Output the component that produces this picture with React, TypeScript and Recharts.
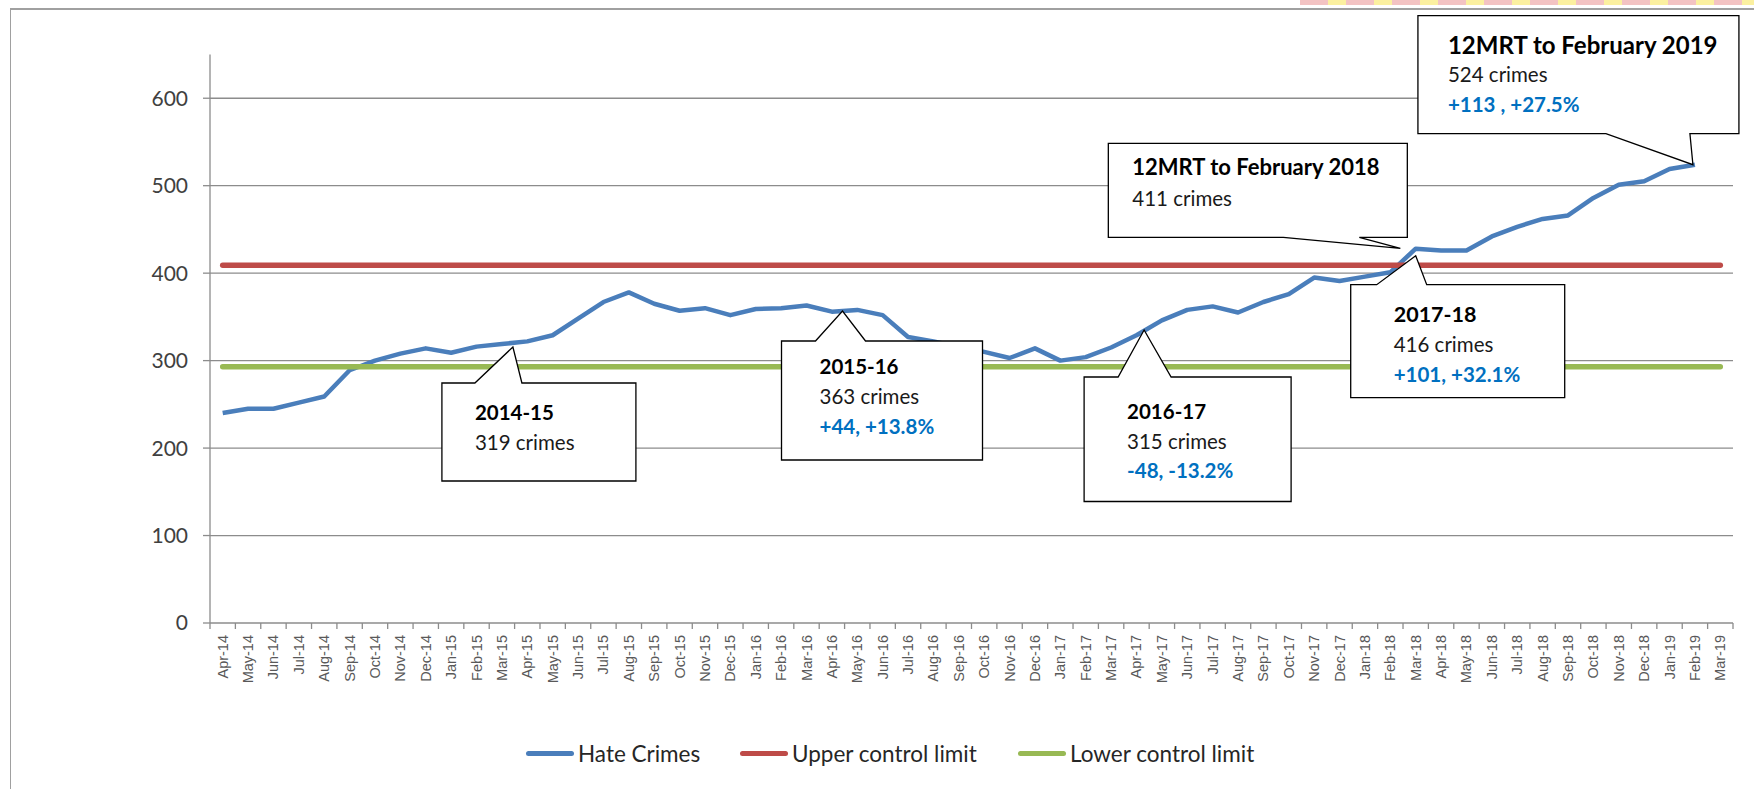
import React from 'react';
import { LineChart, Line, XAxis, YAxis, ReferenceLine, ReferenceDot } from 'recharts';

const months = [
  'Apr-14', 'May-14', 'Jun-14', 'Jul-14', 'Aug-14', 'Sep-14', 'Oct-14', 'Nov-14', 'Dec-14', 'Jan-15', 'Feb-15', 'Mar-15',
  'Apr-15', 'May-15', 'Jun-15', 'Jul-15', 'Aug-15', 'Sep-15', 'Oct-15', 'Nov-15', 'Dec-15', 'Jan-16', 'Feb-16', 'Mar-16',
  'Apr-16', 'May-16', 'Jun-16', 'Jul-16', 'Aug-16', 'Sep-16', 'Oct-16', 'Nov-16', 'Dec-16', 'Jan-17', 'Feb-17', 'Mar-17',
  'Apr-17', 'May-17', 'Jun-17', 'Jul-17', 'Aug-17', 'Sep-17', 'Oct-17', 'Nov-17', 'Dec-17', 'Jan-18', 'Feb-18', 'Mar-18',
  'Apr-18', 'May-18', 'Jun-18', 'Jul-18', 'Aug-18', 'Sep-18', 'Oct-18', 'Nov-18', 'Dec-18', 'Jan-19', 'Feb-19', 'Mar-19',
];

// 12 month rolling total of hate crimes (no value yet for Mar-19)
const hateCrimes = [
  240, 245, 245, 252, 259, 289, 300, 308, 314, 309, 316, 319,
  322, 329, 348, 367, 378, 365, 357, 360, 352, 359, 360, 363,
  356, 358, 352, 327, 322, 316, 310, 303, 314, 300, 304, 315,
  329, 346, 358, 362, 355, 367, 376, 395, 391, 396, 401, 428,
  426, 426, 442, 453, 462, 466, 486, 501, 505, 519, 524, null,
];

const upperControlLimit = 409;
const lowerControlLimit = 293;

const yTicks = [0, 100, 200, 300, 400, 500, 600];

const seriesNames = ['Hate Crimes', 'Upper control limit', 'Lower control limit'];
const seriesColors = ['#4A7EBB', '#BE4B48', '#98B954'];

const callouts = [
  { month: 'Mar-15', title: '2014-15', crimes: '319 crimes', change: '' },
  { month: 'Mar-16', title: '2015-16', crimes: '363 crimes', change: '+44, +13.8%' },
  { month: 'Mar-17', title: '2016-17', crimes: '315 crimes', change: '-48, -13.2%' },
  { month: 'Mar-18', title: '2017-18', crimes: '416 crimes', change: '+101, +32.1%' },
  { month: 'Feb-18', title: '12MRT to February 2018', crimes: '411 crimes', change: '' },
  { month: 'Feb-19', title: '12MRT to February 2019', crimes: '524 crimes', change: '+113 , +27.5%' },
];

// box geometry relative to the data point the callout points at
const calloutLayout = [
  { tip: [11, 3], box: [-60, 134, 39, 137], base: [-27, 20], edge: 'top', textX: -27, lines: [76, 106], titleSize: 20.5 },
  { tip: [36, 5.5], box: [-25, 176, 35.5, 154.5], base: [9, 59], edge: 'top', textX: 13, lines: [68.5, 98.5, 128.5], titleSize: 20.5 },
  { tip: [33, -17.5], box: [-27, 180, 29.5, 154], base: [7, 60], edge: 'top', textX: 16, lines: [71.5, 101.5, 130.5], titleSize: 20.5 },
  { tip: [0, 7], box: [-65, 149, 36, 149], base: [-39, 11], edge: 'top', textX: -22, lines: [73, 103, 133], titleSize: 21.5 },
  { tip: [10, -24], box: [-282, 17, -129, -35], base: [-107, -31], edge: 'bottom', textX: -258, lines: [-97, -66], titleSize: 22 },
  { tip: [-2, 0], box: [-277, 44, -149, -31], base: [-89, -5], edge: 'bottom', textX: -247, lines: [-111, -83, -53], titleSize: 24 },
];

const data = months.map((m, i) => ({
  month: m,
  hate: hateCrimes[i],
  upper: upperControlLimit,
  lower: lowerControlLimit,
}));

const FONT = 'Lato, "Open Sans", sans-serif';
const BAND = 1523 / 60;
const GRID = '#8c8c8c';

const MonthTick = (props: any) => {
  const { x, y, payload, index } = props;
  const axisY = y - 12;
  return (
    <g>
      <line x1={x - BAND / 2} x2={x - BAND / 2} y1={axisY} y2={axisY + 6} stroke={GRID} strokeWidth={1.3} />
      {index === months.length - 1 && (
        <line x1={x + BAND / 2} x2={x + BAND / 2} y1={axisY} y2={axisY + 6} stroke={GRID} strokeWidth={1.3} />
      )}
      <text
        x={x}
        y={y}
        transform={`rotate(-90, ${x}, ${y})`}
        textAnchor="end"
        dominantBaseline="central"
        fontFamily='"Liberation Sans", Arial, sans-serif'
        fontSize={14.5}
        fill="#595959"
      >
        {payload.value}
      </text>
    </g>
  );
};

const Callout = (props: any) => {
  const { cx, cy, info, layout } = props;
  if (cx == null || cy == null) return null;
  const [l, r, t, b] = layout.box;
  const L = cx + l, R = cx + r, T = cy + t, B = cy + b;
  const tx = cx + layout.tip[0], ty = cy + layout.tip[1];
  const b1 = cx + layout.base[0], b2 = cx + layout.base[1];
  const d = layout.edge === 'top'
    ? `M${L},${T} L${b1},${T} L${tx},${ty} L${b2},${T} L${R},${T} L${R},${B} L${L},${B} Z`
    : `M${L},${T} L${R},${T} L${R},${B} L${b2},${B} L${tx},${ty} L${b1},${B} L${L},${B} Z`;
  const texts = [info.title, info.crimes, info.change].filter((s: string) => s);
  return (
    <g>
      <path d={d} fill="#fff" stroke="#000" strokeWidth={1.3} strokeLinejoin="miter" />
      {texts.map((s: string, i: number) => (
        <text
          key={i}
          x={cx + layout.textX}
          y={cy + layout.lines[i]}
          fontFamily={FONT}
          fontSize={i === 0 ? layout.titleSize : 20.5}
          fontWeight={i === 0 || i === 2 ? 700 : 400}
          fill={i === 2 ? '#0070C0' : i === 0 ? '#000' : '#1a1a1a'}
        >
          {s}
        </text>
      ))}
    </g>
  );
};

const legendX = [526, 740, 1018];

const HateCrimeChart = () => {
  return (
    <div style={{ position: 'absolute', left: 0, top: 0, width: 1754, height: 789, background: '#fff', overflow: 'hidden' }}>
      {/* chart frame */}
      <div style={{ position: 'absolute', left: 10, top: 8, width: 1800, height: 900, borderLeft: '1.5px solid #a0a0a0', borderTop: '2px solid #a0a0a0' }} />
      {/* bit of a picture peeking in at the top right */}
      <div style={{ position: 'absolute', left: 1300, top: 0, width: 454, height: 5, background: 'repeating-linear-gradient(90deg, #f3c3c3 0px, #f3c3c3 28px, #fbf0a0 28px, #fbf0a0 46px)' }} />
      <LineChart
        width={1754}
        height={789}
        data={data}
        margin={{ top: 54.5, right: 21, left: 150, bottom: 116 }}
        style={{ position: 'absolute', left: 0, top: 0 }}
      >
        <XAxis
          dataKey="month"
          interval={0}
          height={50}
          padding={{ left: BAND / 2, right: BAND / 2 }}
          tickLine={false}
          tickSize={6}
          tickMargin={6}
          axisLine={{ stroke: GRID, strokeWidth: 1.3 }}
          tick={<MonthTick />}
        />
        <YAxis
          width={60}
          domain={[0, 650]}
          ticks={yTicks}
          interval={0}
          tickSize={7}
          tickMargin={15}
          axisLine={{ stroke: GRID, strokeWidth: 1.3 }}
          tickLine={{ stroke: GRID, strokeWidth: 1.3 }}
          tick={{ fontFamily: FONT, fontSize: 21, fill: '#404040' }}
        />
        {yTicks.slice(1).map((v) => (
          <ReferenceLine key={v} y={v} stroke={GRID} strokeWidth={1.3} />
        ))}
        <Line dataKey="hate" name={seriesNames[0]} stroke={seriesColors[0]} strokeWidth={4.5} dot={false} strokeLinejoin="round" isAnimationActive={false} />
        <Line dataKey="upper" name={seriesNames[1]} stroke={seriesColors[1]} strokeWidth={5.5} dot={false} strokeLinecap="round" isAnimationActive={false} />
        <Line dataKey="lower" name={seriesNames[2]} stroke={seriesColors[2]} strokeWidth={5.5} dot={false} strokeLinecap="round" isAnimationActive={false} />
        {callouts.map((c, i) => (
          <ReferenceDot
            key={c.title}
            x={c.month}
            y={hateCrimes[months.indexOf(c.month)] as number}
            r={0}
            ifOverflow="visible"
            shape={(p: any) => <Callout {...p} info={c} layout={calloutLayout[i]} />}
          />
        ))}
      </LineChart>
      {/* legend */}
      {seriesNames.map((n, i) => (
        <div
          key={n}
          style={{ position: 'absolute', left: legendX[i], top: 740, display: 'flex', alignItems: 'center', fontFamily: FONT, fontSize: 22.5, color: '#262626', whiteSpace: 'nowrap' }}
        >
          <div style={{ width: 48, height: 5, borderRadius: 3, background: seriesColors[i], marginRight: 4 }} />
          <span>{n}</span>
        </div>
      ))}
    </div>
  );
};

export default HateCrimeChart;
